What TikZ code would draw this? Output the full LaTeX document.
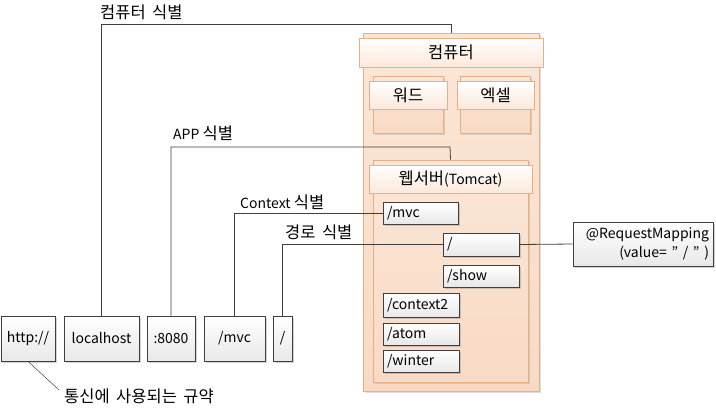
\documentclass[tikz,border=0pt]{standalone}
\usepackage{fontspec}
\setmainfont{Noto Sans CJK KR}
\usetikzlibrary{shadows,calc}
\definecolor{lnc}{HTML}{3F3F3F}
\definecolor{orb}{HTML}{E6AF85}
\definecolor{pch}{HTML}{FBE6D6}
\definecolor{pchd}{HTML}{F8DAC4}
\definecolor{hdb}{HTML}{FBE8DA}
\newcommand\kor[1]{{\fontsize{16.5bp}{19bp}\selectfont\spaceskip=6.5bp\relax #1}}
\tikzset{
  txt/.style={font=\fontsize{14bp}{17bp}\selectfont, inner sep=0pt},
  conn/.style={draw=lnc, line width=0.8bp},
  graybox/.style={draw=lnc, line width=0.8bp, top color=white, bottom color=gray!18,
    inner sep=0pt, font=\fontsize{14bp}{17bp}\selectfont,
    drop shadow={shadow xshift=1.5bp, shadow yshift=-1.5bp, opacity=0.35, fill=gray}},
  leftbox/.style={graybox, align=left, text width=#1, inner xsep=4bp, anchor=center},
  body/.style={draw=orb, line width=0.8bp, top color=pch, bottom color=pchd, inner sep=0pt,
    drop shadow={shadow xshift=1.5bp, shadow yshift=-1.5bp, opacity=0.25, fill=gray}},
  hdr/.style={draw=orb, line width=0.8bp, top color=white, bottom color=hdb, inner sep=0pt,
    font=\fontsize{14bp}{17bp}\selectfont},
}
\begin{document}
\begin{tikzpicture}[x=1bp, y=-1bp]
\useasboundingbox (0,0) rectangle (716,407);
% bottom URL parts
\node[graybox, minimum width=54bp, minimum height=45bp] (http) at (28,338.5) {http://};
\node[graybox, minimum width=75bp, minimum height=45bp] (host) at (101.5,338.5) {localhost};
\node[graybox, minimum width=48bp, minimum height=45bp] (port) at (171,338.5) {:8080};
\node[graybox, minimum width=61bp, minimum height=45bp] (ctx) at (234.5,338.5) {/mvc};
\node[graybox, minimum width=19bp, minimum height=45bp] (path) at (282.5,338.5) {/};
% computer
\node[body, minimum width=176bp, minimum height=358bp] (comp) at (451,212) {};
\node[hdr, minimum width=184bp, minimum height=29bp] (comphdr) at (451,52.5) {\kor{컴퓨터}};
\node[body, minimum width=70bp, minimum height=57bp] (word) at (408,104.5) {};
\node[hdr, minimum width=78bp, minimum height=28bp] (wordhdr) at (408,95) {\kor{워드}};
\node[body, minimum width=70bp, minimum height=57bp] (excel) at (495,104.5) {};
\node[hdr, minimum width=77bp, minimum height=28bp] (excelhdr) at (495.5,95) {\kor{엑셀}};
\node[body, minimum width=155bp, minimum height=222bp] (ws) at (450.5,271) {};
\node[hdr, minimum width=163bp, minimum height=28bp] (wshdr) at (450.5,179) {\kor{웹서버}(Tomcat)};
% contexts and paths
\node[leftbox=67bp, minimum height=22bp] (rmvc) at (420.5,213) {/mvc};
\node[leftbox=68bp, minimum height=23bp] (rslash) at (481,244.5) {/};
\node[leftbox=68bp, minimum height=22bp] (rshow) at (481,276) {/show};
\node[leftbox=68bp, minimum height=24bp] (rctx2) at (421,305) {/context2};
\node[leftbox=68bp, minimum height=22bp] (ratom) at (421,334) {/atom};
\node[leftbox=68bp, minimum height=22bp] (rwinter) at (421,361) {/winter};
\node[graybox, minimum width=140bp, minimum height=44bp, align=right, text width=132bp,
  font=\fontsize{14bp}{19bp}\selectfont] (rm) at (643,244) {@RequestMapping\\(value= \symbol{34} / \symbol{34} )};
% labels
\node[txt, anchor=west] (lcomp) at (100,12) {\kor{컴퓨터 식별}};
\node[txt, anchor=west] (lapp) at (173,133) {APP \kor{식별}};
\node[txt, anchor=west] (lctx) at (240,202) {Context \kor{식별}};
\node[txt, anchor=west] (lpath) at (285,232) {\kor{경로 식별}};
\node[txt, anchor=west] (lproto) at (64,396) {\kor{통신에 사용되는 규약}};
\coordinate (protoend) at (59,390);
% connectors
\draw[conn] (host.north) |- (451,24) -- (comp.north);
\draw[conn] (port.north) |- (450,147) -- (ws.north);
\draw[conn] (ctx.north) |- (rmvc.west);
\draw[conn] (path.north) |- (rslash.west);
\draw[conn] (rslash.east) -- (rm.west);
\draw[conn, line width=0.5bp] (http.south) -- (protoend);
\end{tikzpicture}
\end{document}
